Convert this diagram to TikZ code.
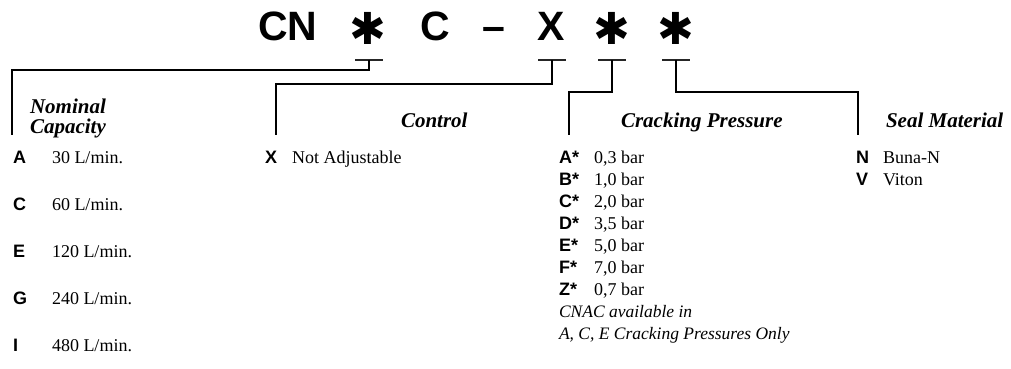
\documentclass[tikz,border=0pt]{standalone}
\usepackage{fontspec}
\setmainfont{Liberation Serif}
\setsansfont{Liberation Sans}
\newfontfamily\symfont{DejaVu Sans}
\begin{document}
\begin{tikzpicture}[x=1pt,y=-1pt,
  every node/.style={inner sep=0pt,outer sep=0pt},
  titlech/.style={anchor=base,font=\fontsize{41}{41}\selectfont\sffamily\bfseries},
  star/.style={anchor=center,font=\fontsize{44}{44}\selectfont\symfont},
  bar/.style={fill=black!85,minimum width=28pt,minimum height=1.5pt},
  conn/.style={line width=2.5pt,line cap=butt,line join=miter},
  head/.style={anchor=base west,font=\fontsize{21}{21}\selectfont\bfseries\itshape},
  code/.style={anchor=base west,font=\fontsize{18}{18}\selectfont\sffamily\bfseries},
  val/.style={anchor=base west,font=\fontsize{18}{18}\selectfont},
  note/.style={anchor=base west,font=\fontsize{17.5}{17.5}\selectfont\itshape}]
\useasboundingbox (0,0) rectangle (1011,369);
% title
\node[titlech,anchor=base west] (tCN) at (258,41) {CN};
\node[star] (s1) at (368,28) {✱};
\node[titlech] (tC) at (435,41) {C};
\node[titlech] (tD) at (494,41) {–};
\node[titlech] (tX) at (551,41) {X};
\node[star] (s2) at (612,28) {✱};
\node[star] (s3) at (676,28) {✱};
% bars
\node[bar] (b1) at (369,60) {};
\node[bar] (b2) at (552,60) {};
\node[bar] (b3) at (612,60) {};
\node[bar] (b4) at (676,60) {};
% bracket corners and ends
\coordinate (k1) at (12,70);   \coordinate (e1) at (12,135);
\coordinate (k2) at (276,84);  \coordinate (e2) at (276,135);
\coordinate (k3) at (569,92);  \coordinate (e3) at (569,135);
\coordinate (k4) at (858,92);  \coordinate (e4) at (858,135);
\draw[conn] (b1.center) |- (k1) -- (e1);
\draw[conn] (b2.center) |- (k2) -- (e2);
\draw[conn] (b3.center) |- (k3) -- (e3);
\draw[conn] (b4.center) |- (k4) -- (e4);
% headings
\node[head] (h1a) at (30,113) {Nominal};
\node[head] (h1b) at (30,133) {Capacity};
\node[head] (h2) at (401,127) {Control};
\node[head] (h3) at (621,127) {Cracking Pressure};
\node[head] (h4) at (886,127) {Seal Material};
% nominal capacity
\foreach \c/\v/\i in {A/30/0,C/60/1,E/120/2,G/240/3,I/480/4}{
  \node[code] (nc\i) at (13,163+47*\i) {\c};
  \node[val] (nv\i) at (52,163+47*\i) {\v\ L/min.};
}
% control
\node[code] (cx) at (265,163) {X};
\node[val] (cv) at (292,163) {Not Adjustable};
% cracking pressure
\foreach \c/\v/\i in {A/{0,3}/0,B/{1,0}/1,C/{2,0}/2,D/{3,5}/3,E/{5,0}/4,F/{7,0}/5,Z/{0,7}/6}{
  \node[code] (pc\i) at (559,163+22*\i) {\c*};
  \node[val] (pv\i) at (594,163+22*\i) {\v\ bar};
}
\node[note] (pn1) at (559,317) {CNAC available in};
\node[note] (pn2) at (559,339) {A, C, E Cracking Pressures Only};
% seal material
\node[code] (sn) at (856,163) {N};
\node[val] (snv) at (883,163) {Buna-N};
\node[code] (sv) at (856,185) {V};
\node[val] (svv) at (883,185) {Viton};
\end{tikzpicture}
\end{document}
